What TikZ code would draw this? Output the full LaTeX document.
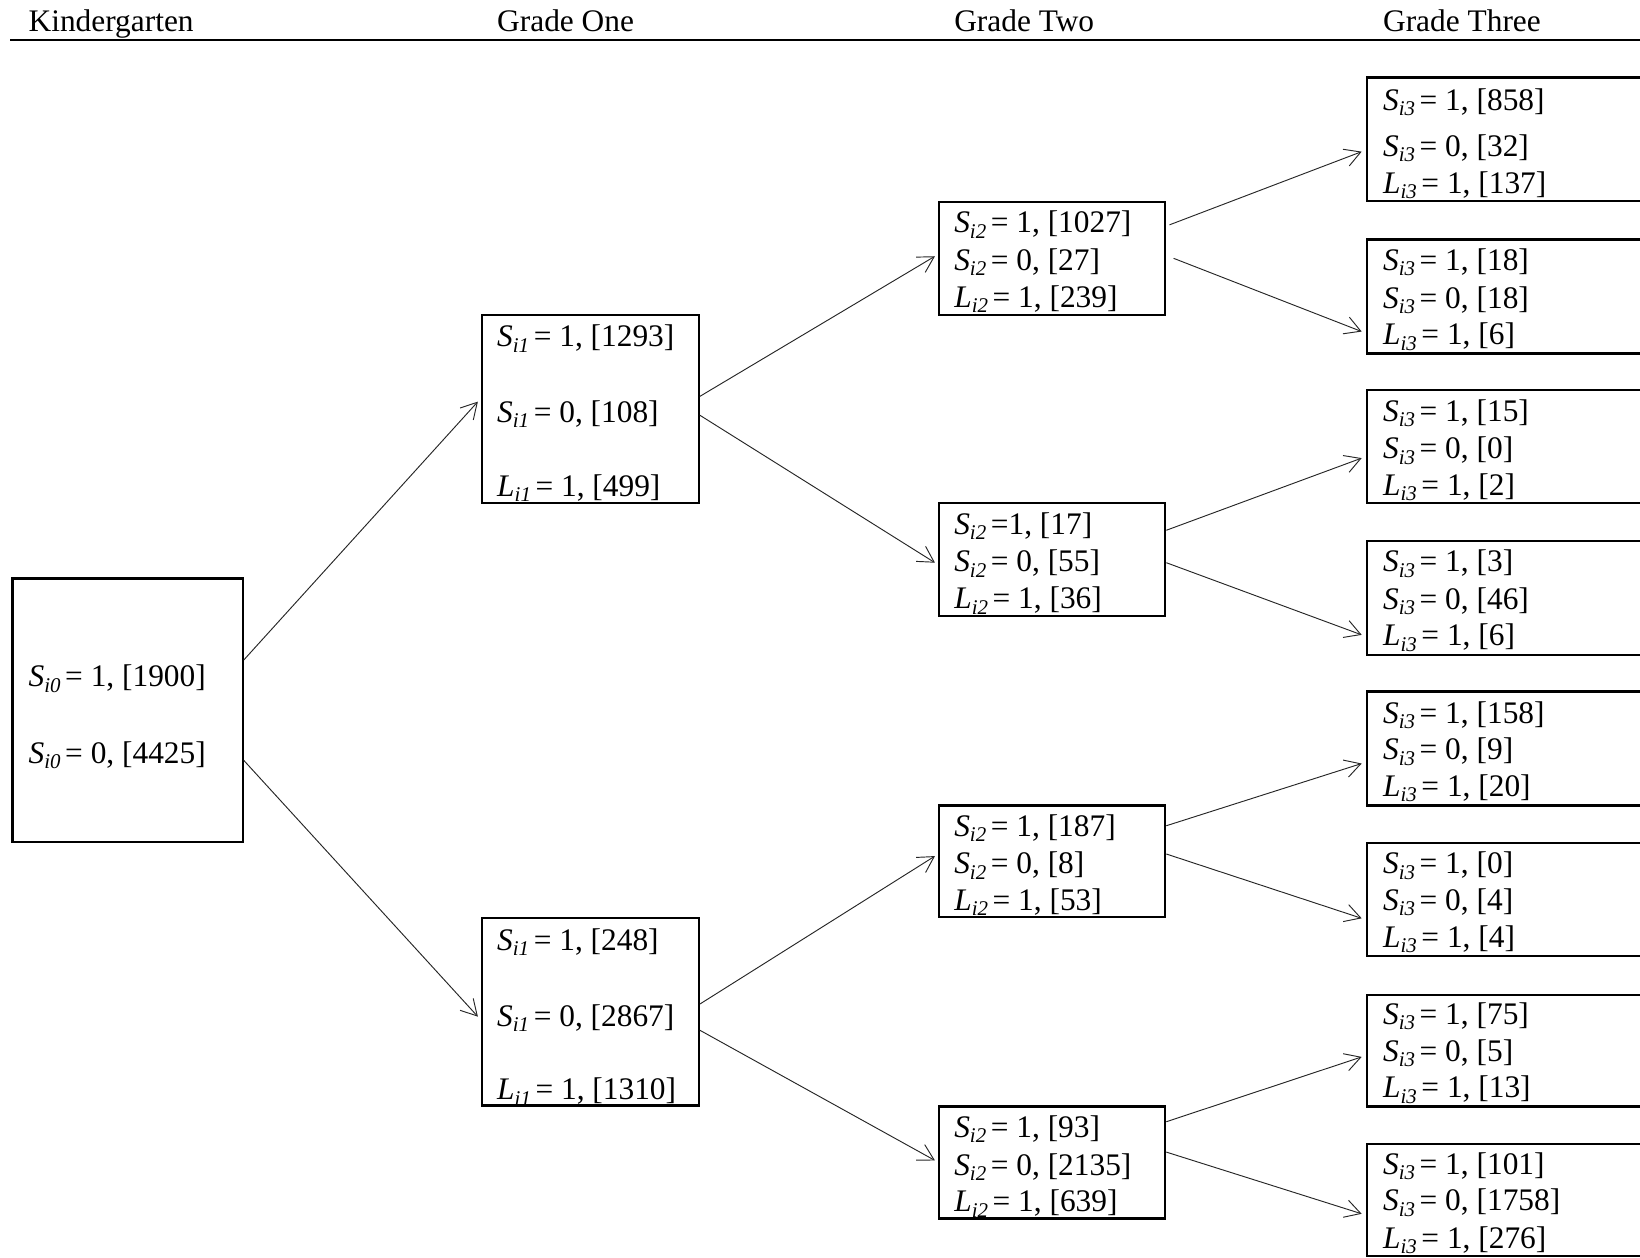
\documentclass[tikz,border=0pt]{standalone}
\usepackage{fontspec}
\setmainfont{Liberation Serif}
\usetikzlibrary{arrows.meta,fit,calc}
\newcommand\vsub[2]{\textit{#1}\raisebox{-0.17em}{\fontsize{10}{12}\selectfont\textit{#2}}\kern2.2pt}
\begin{document}
\begin{tikzpicture}[x=0.5pt,y=-0.5pt,
  box/.style={draw=black, line width=1.1pt, inner sep=0pt, rectangle},
  txt/.style={anchor=mid west, inner sep=0pt, yshift=-2.5pt, font=\fontsize{15}{18}\selectfont},
  conn/.style={draw=black!85, line width=0.45pt, -{Straight Barb[length=7.5pt,width=8.5pt,line width=0.45pt]}}]
\useasboundingbox (0,0) rectangle (1568,1202);

% header
\node[txt] (hK) at (27,21) {Kindergarten};
\node[txt] (h1) at (475,21) {Grade One};
\node[txt] (h2) at (912,21) {Grade Two};
\node[txt] (h3) at (1322,21) {Grade Three};
\coordinate (rl) at (10,38);
\coordinate (rr) at (1580,38);
\draw[line width=1pt] (rl) -- (rr);

% Kindergarten
\node[box, fit={(12,553)(232,805)}] (K) {};
\node[txt] (K1) at (27,647) {\vsub{S}{i0}= 1, [1900]};
\node[txt] (K2) at (27,720) {\vsub{S}{i0}= 0, [4425]};

% Grade one
\node[box, fit={(461,301)(668,481)}] (A) {};
\node[txt] (A1) at (475,322) {\vsub{S}{i1}= 1, [1293]};
\node[txt] (A2) at (475,394.5) {\vsub{S}{i1}= 0, [108]};
\node[txt] (A3) at (475,465) {\vsub{L}{i1}= 1, [499]};

\node[box, fit={(461,878)(668,1057)}] (B) {};
\node[txt] (B1) at (475,899) {\vsub{S}{i1}= 1, [248]};
\node[txt] (B2) at (475,971.5) {\vsub{S}{i1}= 0, [2867]};
\node[txt] (B3) at (475,1042) {\vsub{L}{i1}= 1, [1310]};

% Grade two
\node[box, fit={(898,193)(1114,301)}] (AA) {};
\node[txt] (AA1) at (912,213) {\vsub{S}{i2}= 1, [1027]};
\node[txt] (AA2) at (912,249) {\vsub{S}{i2}= 0, [27]};
\node[txt] (AA3) at (912,284.5) {\vsub{L}{i2}= 1, [239]};

\node[box, fit={(898,481)(1114,589)}] (AB) {};
\node[txt] (AB1) at (912,501) {\vsub{S}{i2}=1, [17]};
\node[txt] (AB2) at (912,537) {\vsub{S}{i2}= 0, [55]};
\node[txt] (AB3) at (912,572.5) {\vsub{L}{i2}= 1, [36]};

\node[box, fit={(898,770)(1114,877)}] (BA) {};
\node[txt] (BA1) at (912,790) {\vsub{S}{i2}= 1, [187]};
\node[txt] (BA2) at (912,826) {\vsub{S}{i2}= 0, [8]};
\node[txt] (BA3) at (912,861) {\vsub{L}{i2}= 1, [53]};

\node[box, fit={(898,1058)(1114,1165)}] (BB) {};
\node[txt] (BB1) at (912,1078) {\vsub{S}{i2}= 1, [93]};
\node[txt] (BB2) at (912,1114) {\vsub{S}{i2}= 0, [2135]};
\node[txt] (BB3) at (912,1149) {\vsub{L}{i2}= 1, [639]};

% Grade three
\node[box, fit={(1307,74)(1620,192)}] (C1) {};
\node[txt] (C11) at (1322,96) {\vsub{S}{i3}= 1, [858]};
\node[txt] (C12) at (1322,140) {\vsub{S}{i3}= 0, [32]};
\node[txt] (C13) at (1322,175) {\vsub{L}{i3}= 1, [137]};

\node[box, fit={(1307,229)(1620,338)}] (C2) {};
\node[txt] (C21) at (1322,249) {\vsub{S}{i3}= 1, [18]};
\node[txt] (C22) at (1322,285) {\vsub{S}{i3}= 0, [18]};
\node[txt] (C23) at (1322,320) {\vsub{L}{i3}= 1, [6]};

\node[box, fit={(1307,373)(1620,481)}] (C3) {};
\node[txt] (C31) at (1322,393) {\vsub{S}{i3}= 1, [15]};
\node[txt] (C32) at (1322,429) {\vsub{S}{i3}= 0, [0]};
\node[txt] (C33) at (1322,464) {\vsub{L}{i3}= 1, [2]};

\node[box, fit={(1307,517)(1620,626)}] (C4) {};
\node[txt] (C41) at (1322,537) {\vsub{S}{i3}= 1, [3]};
\node[txt] (C42) at (1322,573) {\vsub{S}{i3}= 0, [46]};
\node[txt] (C43) at (1322,608) {\vsub{L}{i3}= 1, [6]};

\node[box, fit={(1307,661)(1620,770)}] (C5) {};
\node[txt] (C51) at (1322,682) {\vsub{S}{i3}= 1, [158]};
\node[txt] (C52) at (1322,717) {\vsub{S}{i3}= 0, [9]};
\node[txt] (C53) at (1322,752) {\vsub{L}{i3}= 1, [20]};

\node[box, fit={(1307,806)(1620,914)}] (C6) {};
\node[txt] (C61) at (1322,826) {\vsub{S}{i3}= 1, [0]};
\node[txt] (C62) at (1322,861) {\vsub{S}{i3}= 0, [4]};
\node[txt] (C63) at (1322,896) {\vsub{L}{i3}= 1, [4]};

\node[box, fit={(1307,951)(1620,1058)}] (C7) {};
\node[txt] (C71) at (1322,970) {\vsub{S}{i3}= 1, [75]};
\node[txt] (C72) at (1322,1005) {\vsub{S}{i3}= 0, [5]};
\node[txt] (C73) at (1322,1040) {\vsub{L}{i3}= 1, [13]};

\node[box, fit={(1307,1094)(1620,1201)}] (C8) {};
\node[txt] (C81) at (1322,1113) {\vsub{S}{i3}= 1, [101]};
\node[txt] (C82) at (1322,1148) {\vsub{S}{i3}= 0, [1758]};
\node[txt] (C83) at (1322,1184) {\vsub{L}{i3}= 1, [276]};

% connectors
\draw[conn] ($(K.east)+(0,-48)$) -- ($(A.west)+(-3,-7)$);
\draw[conn] ($(K.east)+(0,48)$) -- ($(B.west)+(-3,4.5)$);
\draw[conn] ($(A.east)+(0,-12)$) -- ($(AA.west)+(-3,-2)$);
\draw[conn] ($(A.east)+(0,6)$) -- ($(AB.west)+(-3,3)$);
\draw[conn] ($(B.east)+(0,-7.5)$) -- ($(BA.west)+(-3,-5)$);
\draw[conn] ($(B.east)+(0,17.5)$) -- ($(BB.west)+(-3,-2)$);
\draw[conn] ($(AA.east)+(3,-32)$) -- ($(C1.west)+(-4,12)$);
\draw[conn] ($(AA.east)+(7,0)$) -- ($(C2.west)+(-4,33.5)$);
\draw[conn] ($(AB.east)+(0,-28)$) -- ($(C3.west)+(-4,11)$);
\draw[conn] ($(AB.east)+(0,3)$) -- ($(C4.west)+(-4,35.5)$);
\draw[conn] ($(BA.east)+(0,-34)$) -- ($(C5.west)+(-4,14.5)$);
\draw[conn] ($(BA.east)+(0,-7)$) -- ($(C6.west)+(-4,18)$);
\draw[conn] ($(BB.east)+(0,-39)$) -- ($(C7.west)+(-4,6)$);
\draw[conn] ($(BB.east)+(0,-10)$) -- ($(C8.west)+(-4,13)$);
\end{tikzpicture}
\end{document}
